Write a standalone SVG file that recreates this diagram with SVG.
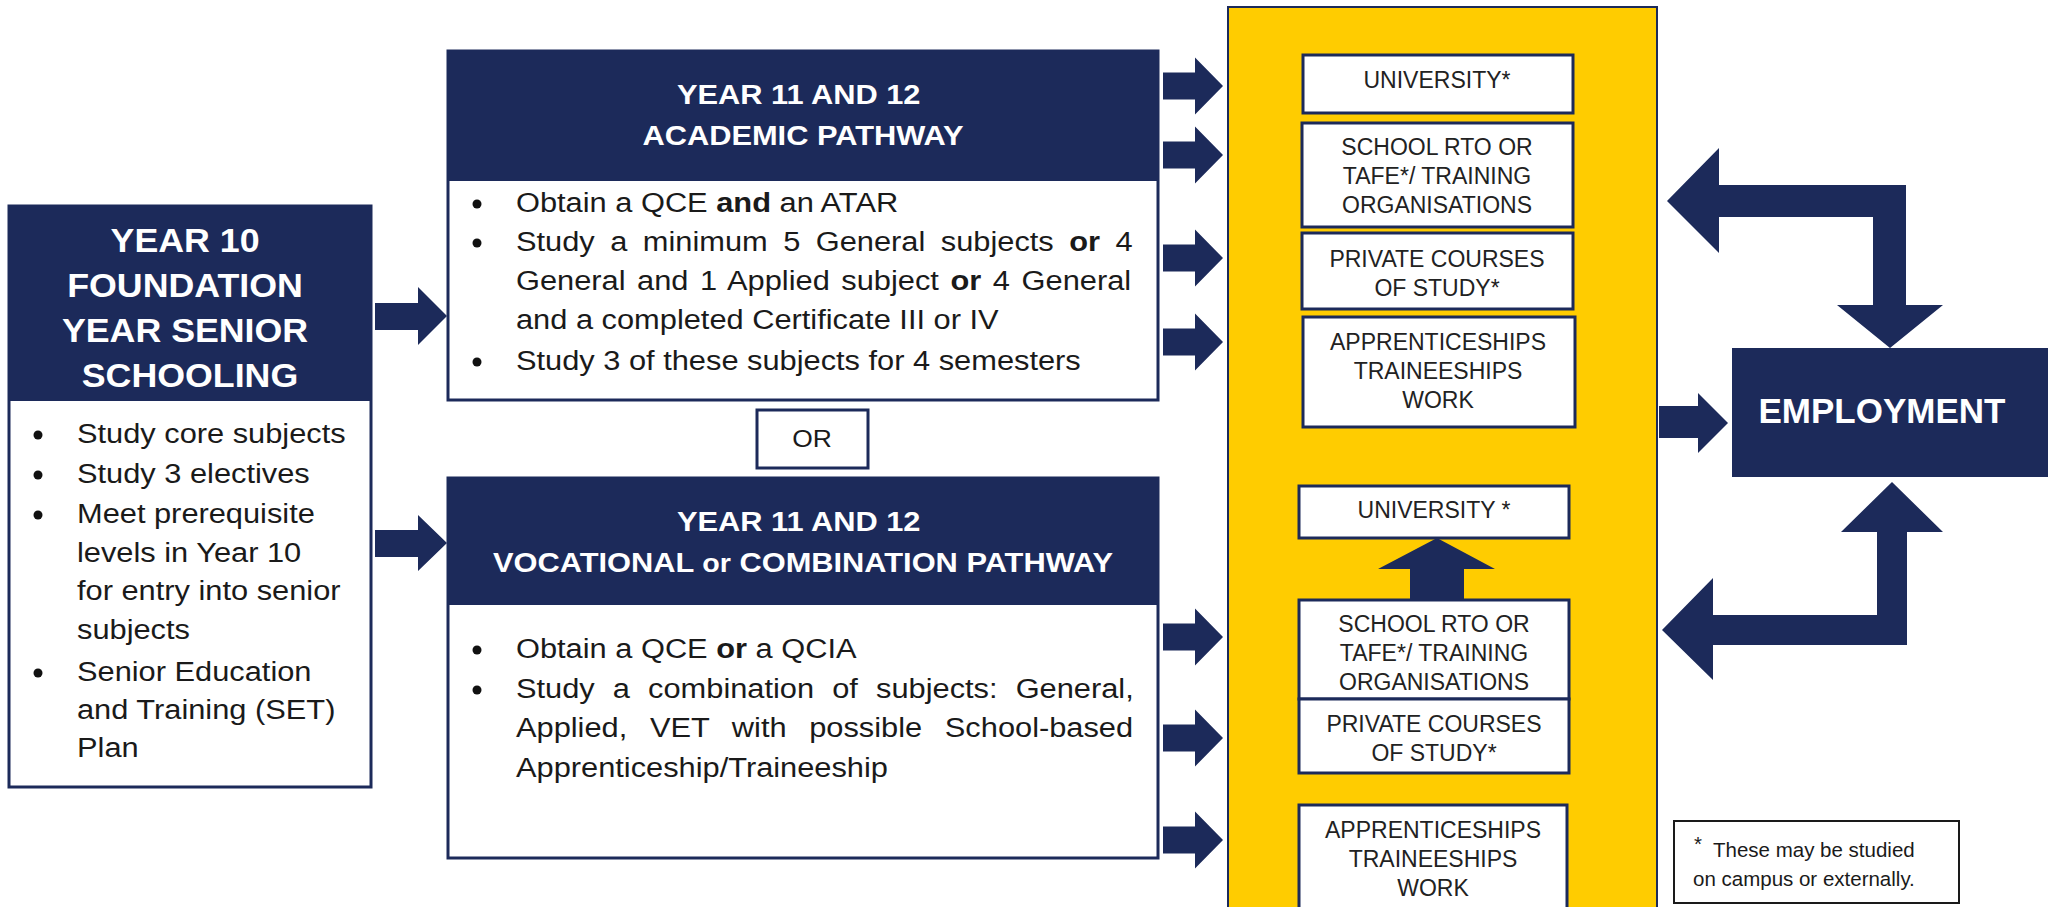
<svg xmlns="http://www.w3.org/2000/svg" xmlns:xlink="http://www.w3.org/1999/xlink" width="2058" height="907" viewBox="0 0 2058 907">
  <style>
    .navy { fill: #1c2a5a; }
    .card { fill: #ffffff; stroke: #1c2a5a; stroke-width: 3; }
    .pill { fill: #ffffff; stroke: #1c2a5a; stroke-width: 3; }
    .hdr { font-family: "Liberation Sans", Arial, sans-serif; font-weight: bold; fill: #ffffff; }
    .txt { font-family: "Liberation Sans", Arial, sans-serif; fill: #1a1a1a; }
    .opt { font-family: "Liberation Sans", Arial, sans-serif; font-size: 23px; fill: #222222; text-anchor: middle; }
    .dot { fill: #111111; }
  </style>
  <defs>
    <!-- short block arrow pointing right, tip at (60,0) -->
    <path id="arrow-right" d="M0,-13.5 H32 V-28.5 L60,0 L32,28.5 V13.5 H0 Z" fill="#1c2a5a"/>
  </defs>

  <rect x="0" y="0" width="2058" height="907" fill="#ffffff"/>

  <!-- Year 10 foundation -->
  <g id="year10">
    <rect class="card" x="9" y="206" width="362" height="581"/>
    <rect class="navy" x="9" y="206" width="362" height="195"/>
    <text class="hdr" font-size="32.5" text-anchor="middle" transform="translate(190 0) scale(1.1 1)">
      <tspan x="0" y="252">YEAR 10</tspan>
      <tspan x="0" y="297">FOUNDATION</tspan>
      <tspan x="0" y="342">YEAR SENIOR</tspan>
      <tspan x="0" y="387">SCHOOLING</tspan>
    </text>
    <circle class="dot" cx="38" cy="435" r="4.5"/>
    <circle class="dot" cx="38" cy="475" r="4.5"/>
    <circle class="dot" cx="38" cy="515" r="4.5"/>
    <circle class="dot" cx="38" cy="673" r="4.5"/>
    <text class="txt" font-size="28" transform="translate(77 0) scale(1.1 1)">
      <tspan x="0" y="443">Study core subjects</tspan>
      <tspan x="0" y="483">Study 3 electives</tspan>
      <tspan x="0" y="523">Meet prerequisite</tspan>
      <tspan x="0" y="562">levels in Year 10</tspan>
      <tspan x="0" y="600">for entry into senior</tspan>
      <tspan x="0" y="639">subjects</tspan>
      <tspan x="0" y="681">Senior Education</tspan>
      <tspan x="0" y="719">and Training (SET)</tspan>
      <tspan x="0" y="757">Plan</tspan>
    </text>
  </g>

  <!-- Academic pathway -->
  <g id="academic">
    <rect class="card" x="448" y="51" width="710" height="349"/>
    <rect class="navy" x="448" y="51" width="710" height="130"/>
    <text class="hdr" font-size="28" text-anchor="middle" transform="translate(803 0) scale(1.1 1)">
      <tspan x="0" y="104">YEAR 11 AND 12</tspan>
      <tspan x="0" y="145">ACADEMIC PATHWAY</tspan>
    </text>
    <circle class="dot" cx="477" cy="204" r="4.5"/>
    <circle class="dot" cx="477" cy="243" r="4.5"/>
    <circle class="dot" cx="477" cy="362" r="4.5"/>
    <text class="txt" font-size="28" transform="translate(516 0) scale(1.1 1)">
      <tspan x="0" y="212">Obtain a QCE <tspan font-weight="bold">and</tspan> an ATAR</tspan>
      <tspan x="0" y="251" style="word-spacing:6.3px">Study a minimum 5 General subjects <tspan font-weight="bold">or</tspan> 4</tspan>
      <tspan x="0" y="290" style="word-spacing:2.75px">General and 1 Applied subject <tspan font-weight="bold">or</tspan> 4 General</tspan>
      <tspan x="0" y="329">and a completed Certificate III or IV</tspan>
      <tspan x="0" y="370">Study 3 of these subjects for 4 semesters</tspan>
    </text>
  </g>

  <!-- OR separator -->
  <g id="or-label">
    <rect class="pill" x="757" y="410" width="111" height="58"/>
    <text class="txt" font-size="24" text-anchor="middle" transform="translate(812 447) scale(1.1 1)">OR</text>
  </g>

  <!-- Vocational or combination pathway -->
  <g id="vocational">
    <rect class="card" x="448" y="478" width="710" height="380"/>
    <rect class="navy" x="448" y="478" width="710" height="127"/>
    <text class="hdr" font-size="28" text-anchor="middle" transform="translate(803 0) scale(1.1 1)">
      <tspan x="0" y="531">YEAR 11 AND 12</tspan>
      <tspan x="0" y="572">VOCATIONAL <tspan font-size="26">or</tspan> COMBINATION PATHWAY</tspan>
    </text>
    <circle class="dot" cx="477" cy="650" r="4.5"/>
    <circle class="dot" cx="477" cy="690" r="4.5"/>
    <text class="txt" font-size="28" transform="translate(516 0) scale(1.1 1)">
      <tspan x="0" y="658">Obtain a QCE <tspan font-weight="bold">or</tspan> a QCIA</tspan>
      <tspan x="0" y="698" style="word-spacing:8.7px">Study a combination of subjects: General,</tspan>
      <tspan x="0" y="737" style="word-spacing:12.8px">Applied, VET with possible School-based</tspan>
      <tspan x="0" y="777">Apprenticeship/Traineeship</tspan>
    </text>
  </g>

  <!-- Post-school destinations panel -->
  <g id="destinations">
    <rect x="1228" y="7" width="429" height="910" fill="#ffcc00" stroke="#1c2a5a" stroke-width="2"/>
  </g>

  <g id="university-1">
    <rect class="pill" x="1303" y="55" width="270" height="58"/>
    <text class="opt" x="1437" y="88">UNIVERSITY*</text>
  </g>
  <g id="training-1">
    <rect class="pill" x="1302" y="123" width="271" height="104"/>
    <text class="opt"><tspan x="1437" y="155">SCHOOL RTO OR</tspan><tspan x="1437" y="184">TAFE*/ TRAINING</tspan><tspan x="1437" y="213">ORGANISATIONS</tspan></text>
  </g>
  <g id="private-1">
    <rect class="pill" x="1302" y="233" width="271" height="76"/>
    <text class="opt"><tspan x="1437" y="267">PRIVATE COURSES</tspan><tspan x="1437" y="296">OF STUDY*</tspan></text>
  </g>
  <g id="apprenticeships-1">
    <rect class="pill" x="1303" y="317" width="272" height="110"/>
    <text class="opt"><tspan x="1438" y="350">APPRENTICESHIPS</tspan><tspan x="1438" y="379">TRAINEESHIPS</tspan><tspan x="1438" y="408">WORK</tspan></text>
  </g>

  <g id="university-2">
    <rect class="pill" x="1299" y="486" width="270" height="52"/>
    <text class="opt" x="1434" y="518">UNIVERSITY *</text>
  </g>
  <g id="training-2">
    <rect class="pill" x="1299" y="600" width="270" height="99"/>
    <text class="opt"><tspan x="1434" y="632">SCHOOL RTO OR</tspan><tspan x="1434" y="661">TAFE*/ TRAINING</tspan><tspan x="1434" y="690">ORGANISATIONS</tspan></text>
  </g>
  <g id="private-2">
    <rect class="pill" x="1299" y="699" width="270" height="74"/>
    <text class="opt"><tspan x="1434" y="732">PRIVATE COURSES</tspan><tspan x="1434" y="761">OF STUDY*</tspan></text>
  </g>
  <g id="apprenticeships-2">
    <rect class="pill" x="1299" y="805" width="268" height="110"/>
    <text class="opt"><tspan x="1433" y="838">APPRENTICESHIPS</tspan><tspan x="1433" y="867">TRAINEESHIPS</tspan><tspan x="1433" y="896">WORK</tspan></text>
  </g>

  <!-- Employment -->
  <g id="employment">
    <rect class="navy" x="1732" y="348" width="316" height="129"/>
    <text class="hdr" font-size="35" text-anchor="middle" x="1882" y="423">EMPLOYMENT</text>
  </g>

  <!-- Footnote -->
  <g id="footnote">
    <rect x="1674" y="821" width="285" height="82" fill="#ffffff" stroke="#1a1a1a" stroke-width="2"/>
    <text class="txt" font-size="20.5"><tspan x="1694" y="851">*</tspan><tspan x="1713" y="857">These may be studied</tspan><tspan x="1693" y="886">on campus or externally.</tspan></text>
  </g>

  <!-- Connectors -->
  <g id="connectors" fill="#1c2a5a">
    <path d="M375,303 H418 V287 L447,316 L418,345 V330 H375 Z"/>
    <path d="M375,530 H418 V515 L447,543 L418,571 V557 H375 Z"/>

    <use xlink:href="#arrow-right" href="#arrow-right" x="1163" y="86"/>
    <use xlink:href="#arrow-right" href="#arrow-right" x="1163" y="155"/>
    <use xlink:href="#arrow-right" href="#arrow-right" x="1163" y="258"/>
    <use xlink:href="#arrow-right" href="#arrow-right" x="1163" y="342"/>
    <use xlink:href="#arrow-right" href="#arrow-right" x="1163" y="637"/>
    <use xlink:href="#arrow-right" href="#arrow-right" x="1163" y="738"/>
    <use xlink:href="#arrow-right" href="#arrow-right" x="1163" y="840"/>

    <!-- training leads on to university -->
    <path d="M1410,600 V569 H1378 L1437,538 L1495,569 H1464 V600 Z"/>

    <!-- destinations to employment -->
    <path d="M1659,406 H1698 V393 L1728,423 L1698,453 V438 H1659 Z"/>

    <!-- two-way loops between employment and further study -->
    <path d="M1667,201 L1719,148 V185 H1906 V305 H1943 L1890,348 L1837,305 H1873 V217 H1719 V253 Z"/>
    <path d="M1662,630 L1713,578 V615 H1877 V532 H1841 L1892,482 L1943,532 H1907 V645 H1713 V680 Z"/>
  </g>
</svg>
